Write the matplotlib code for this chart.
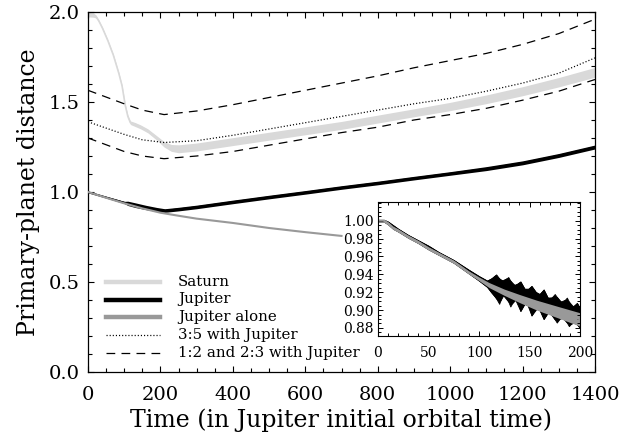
import matplotlib
matplotlib.use("Agg")
import matplotlib.pyplot as plt
from matplotlib.lines import Line2D
from matplotlib.ticker import MultipleLocator, FormatStrFormatter
import numpy as np

plt.rcParams['font.family'] = ['DejaVu Serif']

# ---------------- data ----------------
saturn_t = [0, 15, 22, 30, 40, 55, 70, 85, 94, 103, 110, 117, 130, 145, 165, 190, 210, 230, 250,
            300, 400, 500, 600, 700, 800, 900, 1000, 1100, 1200, 1300, 1400]
saturn_mid = [1.985, 1.983, 1.975, 1.95, 1.91, 1.84, 1.76, 1.66, 1.59, 1.48, 1.42, 1.385, 1.375,
              1.362, 1.34, 1.30, 1.265, 1.245, 1.24, 1.25, 1.28, 1.31, 1.34, 1.37, 1.405, 1.44,
              1.475, 1.515, 1.56, 1.61, 1.665]
saturn_hw = [0.012, 0.012, 0.008, 0.005, 0.005, 0.005, 0.005, 0.005, 0.005, 0.006, 0.008, 0.010,
             0.011, 0.011, 0.011, 0.012, 0.015, 0.019, 0.022, 0.022, 0.022, 0.022, 0.022, 0.022,
             0.022, 0.022, 0.023, 0.024, 0.025, 0.026, 0.027]

jup_t = [0, 50, 100, 110, 130, 160, 190, 212, 250, 300, 400, 500, 600, 700, 800, 900,
         1000, 1100, 1200, 1300, 1400]
jup_mid = [1.0, 0.971, 0.942, 0.937, 0.927, 0.914, 0.903, 0.897, 0.905, 0.917, 0.945, 0.972,
           0.998, 1.025, 1.05, 1.077, 1.103, 1.13, 1.162, 1.203, 1.25]
jup_hw = [0.005, 0.005, 0.006, 0.012, 0.013, 0.012, 0.011, 0.010, 0.010, 0.010, 0.010, 0.010,
          0.010, 0.010, 0.010, 0.010, 0.010, 0.011, 0.011, 0.011, 0.011]

jalone_t = [0, 50, 100, 150, 200, 250, 300, 400, 500, 600, 700]
jalone_v = [1.0, 0.968, 0.937, 0.909, 0.885, 0.868, 0.852, 0.828, 0.80, 0.777, 0.756]

res_t = [0, 100, 150, 210, 300, 400, 500, 600, 700, 800, 900, 1000, 1100, 1200, 1300, 1400]
res_12 = [1.565, 1.49, 1.455, 1.43, 1.45, 1.485, 1.525, 1.565, 1.605, 1.645, 1.69, 1.73,
          1.77, 1.82, 1.88, 1.96]
res_35 = [1.39, 1.32, 1.29, 1.275, 1.285, 1.315, 1.35, 1.385, 1.42, 1.455, 1.49, 1.52,
          1.56, 1.605, 1.66, 1.745]
res_23 = [1.30, 1.225, 1.20, 1.185, 1.20, 1.225, 1.26, 1.295, 1.33, 1.36, 1.40, 1.43,
          1.465, 1.51, 1.56, 1.625]

# inset: Jupiter alone (gray) and Jupiter with Saturn (black)
in_gray_t = [0, 6, 10, 15, 20, 30, 40, 50, 60, 75, 90, 100, 110, 125, 140, 157, 180, 200]
in_gray_v = [1.0, 1.0, 0.997, 0.992, 0.989, 0.982, 0.976, 0.969, 0.963, 0.954, 0.942, 0.935,
             0.928, 0.920, 0.913, 0.9056, 0.897, 0.8895]
in_gray_hw = [0.0018, 0.0018, 0.0018, 0.0018, 0.0018, 0.0018, 0.0018, 0.0018, 0.0018, 0.0018,
              0.0018, 0.002, 0.0028, 0.0035, 0.0045, 0.0055, 0.0065, 0.0075]

in_blk_up_t = [0, 6, 10, 15, 20, 30, 40, 50, 60, 75, 90, 100, 108, 113, 117, 121, 124, 129,
               133, 136, 141, 145, 148, 152, 157, 160, 164, 168, 171, 175, 180, 183, 187,
               191, 194, 197, 200]
in_blk_up_v = [1.001, 1.001, 0.999, 0.995, 0.991, 0.984, 0.978, 0.972, 0.965, 0.956, 0.945,
               0.938, 0.933, 0.936, 0.940, 0.934, 0.933, 0.937, 0.929, 0.928, 0.932, 0.924,
               0.923, 0.927, 0.919, 0.918, 0.923, 0.914, 0.913, 0.918, 0.910, 0.909, 0.914,
               0.905, 0.904, 0.908, 0.902]
in_blk_lo_t = [0, 6, 10, 15, 20, 30, 40, 50, 60, 75, 90, 100, 108, 112, 116, 120, 123, 127,
               131, 135, 138, 141, 145, 149, 152, 156, 160, 164, 168, 172, 177, 181, 185,
               189, 193, 197, 200]
in_blk_lo_v = [0.999, 0.999, 0.996, 0.991, 0.988, 0.981, 0.975, 0.968, 0.962, 0.953, 0.941,
               0.933, 0.926, 0.920, 0.915, 0.907, 0.917, 0.915, 0.904, 0.912, 0.910, 0.899,
               0.907, 0.905, 0.894, 0.902, 0.900, 0.890, 0.897, 0.895, 0.886, 0.892, 0.890,
               0.882, 0.887, 0.884, 0.880]

labels = ["Saturn", "Jupiter", "Jupiter alone", "3:5 with Jupiter", "1:2 and 2:3 with Jupiter"]
xticks_main = [0, 200, 400, 600, 800, 1000, 1200, 1400]
yticks_main = [0.0, 0.5, 1.0, 1.5, 2.0]
xticks_in = [0, 50, 100, 150, 200]
yticks_in = [0.88, 0.90, 0.92, 0.94, 0.96, 0.98, 1.00]

SAT_C = '#d9d9d9'
ALONE_C = '#999999'
W, H = 634, 434

fig = plt.figure(figsize=(W / 100, H / 100), dpi=100)
ax = fig.add_axes([88 / W, 1 - 372 / H, (595 - 88) / W, (372 - 12) / H])

# Saturn
st = np.array(saturn_t); sm = np.array(saturn_mid); sh = np.array(saturn_hw)
ax.fill_between(st, sm - sh, sm + sh, color=SAT_C, lw=0, zorder=1)
ax.plot(st, sm, color=SAT_C, lw=1.2, zorder=1)

# resonances
ax.plot(res_t, res_12, color='black', lw=0.9, dashes=(7, 5), zorder=2)
ax.plot(res_t, res_23, color='black', lw=0.9, dashes=(7, 5), zorder=2)
ax.plot(res_t, res_35, color='black', lw=0.9, dashes=(0.9, 1.6), zorder=2)

# Jupiter
jt = np.array(jup_t); jm = np.array(jup_mid); jh = np.array(jup_hw)
ax.fill_between(jt, jm - jh, jm + jh, color='black', lw=0, zorder=3)
ax.plot(jt, jm, color='black', lw=1.0, zorder=3)

# Jupiter alone
ax.plot(jalone_t, jalone_v, color=ALONE_C, lw=1.5, zorder=4)

ax.set_xlim(0, 1400)
ax.set_ylim(0, 2.0)
ax.set_xticks(xticks_main)
ax.set_yticks(yticks_main)
ax.yaxis.set_major_formatter(FormatStrFormatter('%.1f'))
ax.xaxis.set_minor_locator(MultipleLocator(50))
ax.yaxis.set_minor_locator(MultipleLocator(0.1))
ax.tick_params(which='both', direction='in', top=True, right=True, width=0.8,
               labelsize=14)
ax.tick_params(which='major', length=4.5)
ax.tick_params(which='minor', length=2.8)
ax.tick_params(axis='x', pad=10)
ax.tick_params(axis='y', pad=6)
for s in ax.spines.values():
    s.set_linewidth(0.9)
ax.set_xlabel("Time (in Jupiter initial orbital time)", fontsize=17, labelpad=3)
ax.set_ylabel("Primary-planet distance", fontsize=17, labelpad=6)

# legend (drawn manually)
rows = [282, 299.5, 317, 335, 353]
styles = [dict(color=SAT_C, lw=3.2), dict(color='black', lw=3.2),
          dict(color=ALONE_C, lw=3.2), dict(color='black', lw=0.9, dashes=(0.9, 1.6)),
          dict(color='black', lw=0.9, dashes=(7, 5))]
for y, lab, sty in zip(rows, labels, styles):
    fig.add_artist(Line2D([106 / W, 160 / W], [1 - y / H, 1 - y / H],
                          transform=fig.transFigure, **sty))
    fig.text(178 / W, 1 - y / H, lab, fontsize=10.8, va='center', ha='left')

# inset
ax2 = fig.add_axes([378 / W, 1 - 336 / H, (580 - 378) / W, (336 - 202) / H])
ax2.fill_between(in_blk_up_t, np.interp(in_blk_up_t, in_blk_lo_t, in_blk_lo_v),
                 in_blk_up_v, color='black', lw=0.6, edgecolor='black')
ax2.fill_between(in_blk_lo_t, in_blk_lo_v, np.interp(in_blk_lo_t, in_blk_up_t, in_blk_up_v),
                 color='black', lw=0.6, edgecolor='black')
gt = np.array(in_gray_t); gv = np.array(in_gray_v); gh = np.array(in_gray_hw)
ax2.fill_between(gt, gv - gh, gv + gh, color=ALONE_C, lw=0)
ax2.plot(gt, gv, color=ALONE_C, lw=1.2)
ax2.set_xlim(0, 200)
ax2.set_ylim(0.871, 1.021)
ax2.set_xticks(xticks_in)
ax2.set_yticks(yticks_in)
ax2.yaxis.set_major_formatter(FormatStrFormatter('%.2f'))
ax2.xaxis.set_minor_locator(MultipleLocator(10))
ax2.yaxis.set_minor_locator(MultipleLocator(0.005))
ax2.tick_params(which='both', direction='in', top=True, right=True, width=0.7,
                labelsize=10)
ax2.tick_params(which='major', length=3.5)
ax2.tick_params(which='minor', length=2)
ax2.tick_params(axis='x', pad=7)
ax2.tick_params(axis='y', pad=3)
for s in ax2.spines.values():
    s.set_linewidth(0.8)

fig.savefig("out.png", dpi=100)
